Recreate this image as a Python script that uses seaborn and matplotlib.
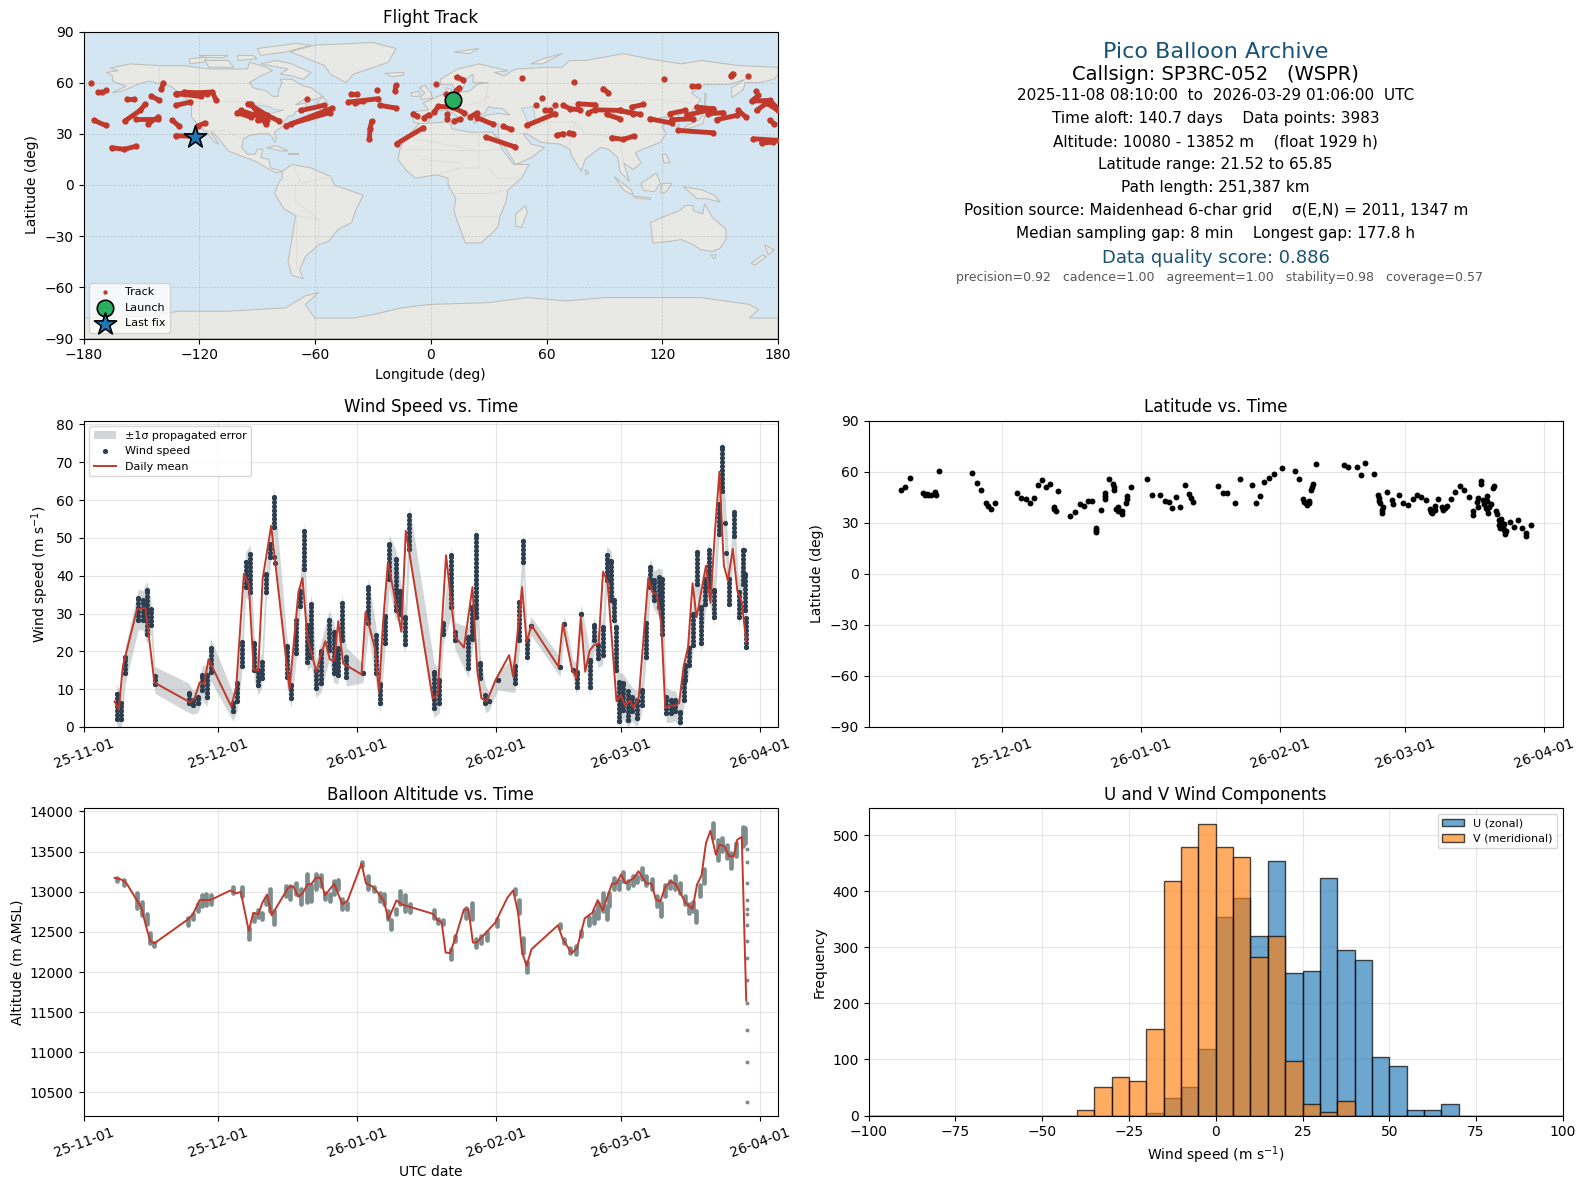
import numpy as np
import pandas as pd
import matplotlib
matplotlib.use("Agg")
import matplotlib.pyplot as plt
import matplotlib.dates as mdates
import seaborn as sns

FIG_W, FIG_H = 1586, 1189
START = pd.Timestamp("2025-11-01")
NAVY = "#2c3e50"
RED = "#c0392b"
GREY = "#7f8c8d"
BLUE_TITLE = "#1a5276"

DATE_TICKS = ["2025-11-01", "2025-12-01", "2026-01-01", "2026-02-01", "2026-03-01", "2026-04-01"]

# wind speed: stacks of samples, day = days since 2025-11-01
WIND_DAY = [7.3, 8.3, 9.2, 12.1, 13.1, 14, 14.9, 15.8, 23.4, 24.3, 25.4, 26.4, 27.4, 28.3, 33.3, 34.2, 35.2, 36.1, 37.1, 38, 38.9, 39.7, 40.7, 41.6, 42.4, 45.3, 46.3, 47.3, 48.2, 49.1, 49.9, 50.8, 51.8, 52.9, 54.8, 55.8, 56.7, 57.7, 58.6, 62.3, 63.5, 65.2, 66.1, 67.2, 68.2, 69.6, 70.7, 71.7, 72.7, 78.2, 79.4, 80.3, 82, 82.9, 85.9, 86.8, 87.7, 88.5, 89.7, 90.5, 92.5, 96.3, 97.3, 98.2, 99, 99.9, 106.4, 107.3, 109.3, 110.1, 111.1, 113, 114, 114.9, 115.9, 116.8, 117.8, 118.5, 118.9, 119.6, 120.5, 121.6, 122.5, 123.5, 124.6, 125.5, 126.5, 127.4, 128.4, 129.2, 130.1, 131.1, 132.1, 133.1, 134, 134.4, 135.1, 136, 136.9, 137.9, 138.8, 139.6, 140.7, 141.8, 142.5, 144.2, 145.2, 146.3, 147.2, 147.8, 148]
WIND_LOW = [2, 2, 14.2, 28.2, 28.2, 24.7, 27, 11.4, 6.3, 5.9, 6.3, 9.8, 7.9, 14.6, 4.1, 6.8, 16, 37, 35.7, 15, 11, 12.9, 35.7, 45, 52.8, 13.3, 7.6, 19.5, 32, 41.8, 17.3, 18.6, 10.3, 11.6, 20.4, 14.2, 13.8, 23, 13.3, 14.2, 27.4, 14.2, 6.3, 22.1, 39.2, 31, 30, 22, 47, 5, 6.3, 24.7, 31.7, 23, 15.5, 23.4, 29, 12.9, 6.3, 6.8, 12.3, 11.6, 23, 43.6, 18.6, 26.7, 15.8, 27.2, 15, 10.7, 30, 10.7, 23, 18.2, 19, 38.8, 33.5, 28.2, 15, 1.5, 4.6, 1.9, 4.1, 2.4, 5.9, 18.6, 37, 33.5, 31.8, 24.7, 3.7, 3.7, 4.1, 1.2, 7.2, 12.5, 16.4, 21.7, 37.9, 22.1, 32.6, 37, 29.1, 51, 62.5, 32.6, 50.6, 29.1, 37.9, 30.9, 21.2]
WIND_HIGH = [8.8, 6.3, 18.6, 34, 33.5, 36.1, 31.3, 13.5, 9.1, 7.2, 8, 13.8, 13.8, 21, 6.3, 11.6, 22.5, 43.6, 45.8, 22.1, 15, 17.3, 40.5, 48.4, 60.7, 21.4, 11.1, 28.2, 36, 51.8, 27, 32.6, 15, 20, 28.4, 25, 20.8, 32.8, 18.6, 14.2, 37, 24.3, 11.4, 29.3, 48.4, 44.5, 36, 29, 56, 14.6, 12.4, 27.4, 45.4, 25.2, 23.9, 31.8, 50.9, 16.8, 8.5, 6.8, 12.3, 16, 33.1, 49.3, 23, 26.7, 15.8, 27.2, 15, 14.6, 30, 17.7, 26.9, 21.7, 26.5, 45.4, 44, 33.5, 26.5, 12, 11.6, 9.4, 8, 7.2, 9.8, 27.4, 42.3, 38.8, 39.6, 39.2, 8, 7.2, 7.2, 3.9, 12.5, 16.4, 20.8, 30, 46.2, 31.8, 39.2, 46.7, 36.1, 59, 74, 39.2, 56.8, 35.7, 46.7, 40.5, 28.7]
WIND_ODD_DAY = [42.5, 42.6, 143.3, 143.5, 147.4]
WIND_ODD_VAL = [45, 43.5, 54, 46, 46.7]
WIND_SIGMA = 2.5

MEAN_DAY = [6.8, 7.75, 8.65, 11.8, 13.7, 15.7, 23.7, 24.7, 25.8, 26.8, 27.8, 32.9, 34, 35.7, 36.8, 37.9, 38.9, 39.9, 41.8, 45.9, 47.9, 48.8, 49.9, 51.9, 52.9, 53.9, 54.9, 55.9, 56.8, 57.9, 62, 62.9, 65, 65.9, 66.8, 67.9, 70.9, 71.9, 77.9, 79, 80.9, 82.9, 84.9, 86.8, 87.9, 88.8, 90, 92, 95, 95.9, 97.9, 98.9, 100, 106, 107, 109, 110, 111, 112, 113, 114, 115, 116, 117, 119, 120, 120.9, 122, 122.9, 124, 126.1, 127, 128, 129, 129.9, 131, 132, 133, 134, 135, 136, 136.9, 139, 140, 141, 142, 143, 143.9, 145, 146, 147, 148]
MEAN_SPEED = [6.75, 4.6, 16.1, 31.1, 31.5, 11.75, 6.5, 7.6, 11.75, 11.4, 17.9, 5.4, 10.7, 40.5, 37.7, 15.1, 14.9, 39.2, 53.2, 10, 35.7, 39.4, 23.7, 14.6, 19, 22.7, 17.9, 17.5, 28, 16.8, 13.9, 30.4, 20.8, 9.4, 27.4, 43.6, 25.2, 51.9, 7.6, 8.5, 45.4, 23.9, 21, 37, 14.6, 7.6, 6.8, 12.5, 19, 13.3, 37, 22.5, 26.9, 16, 27.4, 15.5, 12.9, 29, 14.6, 20.2, 21.7, 22, 41.1, 38.3, 6.8, 8.5, 5.6, 7, 5, 8, 39.4, 35.7, 35.1, 27.4, 5, 5.7, 5.6, 6.3, 16, 21.2, 38, 29, 42.7, 32.8, 51.5, 67.5, 42.7, 38.8, 47.1, 36.1, 33.1, 22.5]

# latitude samples
LAT_DAY = [7.5, 8.4, 9.4, 12.3, 13.2, 14.1, 15, 16, 23.4, 24.4, 25.4, 26.4, 26.8, 27.5, 28.4, 33.3, 34.3, 35.3, 36.3, 37.2, 38, 39, 39.9, 40.8, 42.5, 41.7, 45.3, 46.4, 47.4, 48.3, 49.2, 50.1, 50.9, 52, 53, 53.9, 54.9, 55.8, 56.9, 57.8, 58.7, 62.4, 63.4, 65.3, 66.3, 67.2, 68, 68.9, 69.8, 70.8, 71.7, 72.2, 72.7, 78.3, 79.3, 80.3, 82, 83, 85.8, 86.7, 87.6, 88.5, 89.5, 90.6, 92.4, 95.3, 96.2, 97.2, 97.8, 98.4, 99.1, 100, 106.4, 107.3, 109.1, 110.1, 111, 112.9, 113.9, 114.1, 114.8, 115.9, 116.9, 117.3, 118.5, 119.5, 120.5, 121.6, 122.5, 123.5, 124.5, 125.4, 125.7, 126.6, 127.3, 128.3, 129.2, 130.1, 131.1, 132.1, 133.1, 134.1, 135, 136, 136.8, 137.6, 138.3, 138.7, 139.6, 140.3, 140.8, 141.3, 141.7, 142.3, 143.4, 144.2, 145.1, 146, 146.9, 147.9, 140.5, 140.9, 141.1, 141.5, 142, 141.9, 142.5, 138.2, 138.5, 139, 137.4, 136.9, 99, 99.4, 97.4, 98, 98.6, 115, 114.7, 114, 114.3, 125.6, 125.9, 126.5, 128.2, 128.8, 135.1, 136.1, 136.2, 138.1, 137.9, 139.7, 146.9, 53, 53, 50.9, 50.9, 55.9, 56.8, 55.5, 57.8, 57.7, 42, 41.6, 54.8, 55, 13.6, 12.8, 15.2]
LAT_DEG = [49.4, 51, 56.3, 47.5, 47.1, 46.1, 48, 60.2, 59.2, 53.5, 49, 41.7, 39.8, 38.2, 41.6, 47.5, 44.3, 44.1, 41.8, 44.7, 52.4, 54.9, 50.8, 52.9, 48.8, 38.4, 33.9, 36.3, 41.2, 39.8, 42.7, 43.1, 25.5, 37.3, 45.7, 55.9, 51, 36.9, 35.3, 43.7, 51, 55.9, 46.1, 46.5, 43.1, 42.2, 38.8, 45.1, 39, 52, 47.1, 44.7, 42.2, 51.4, 47.5, 47.6, 41.8, 55.9, 52, 41.8, 45.5, 53.9, 56.3, 58.8, 62.2, 60.6, 55.9, 44.1, 41.6, 43.1, 51, 64.7, 63.7, 62.9, 62.5, 57.8, 64.9, 58.4, 46.1, 43.1, 37.3, 48, 43.5, 41.2, 46.1, 41.6, 40.2, 44.1, 46.1, 45.1, 43.5, 38.2, 36.3, 39.6, 44.1, 37.8, 39.6, 44.1, 48, 51.6, 49.4, 45.1, 36.9, 42.2, 54.3, 41.2, 38.2, 39.2, 50.4, 36.9, 31.4, 32.4, 27.5, 23.5, 30.4, 27.5, 31.8, 27.1, 22, 28.8, 35, 29, 27, 30, 26, 29.5, 25, 43, 36, 41, 43.5, 53, 49, 53, 42.5, 40.5, 41.5, 39, 35.5, 44.5, 41.5, 37, 35.5, 37.7, 39.3, 38.5, 34.8, 39.5, 44.5, 46, 38.7, 51.5, 24, 47.5, 43.9, 27, 24.5, 39, 37, 38, 45.5, 41.5, 37, 39.5, 53, 49.5, 46.5, 46.5, 46.5]

# altitude stacks
ALT_DAY = [7.3, 8.9, 11.9, 13, 14, 14.8, 15.7, 23.3, 24.3, 25.4, 26.3, 27.3, 28.4, 33.2, 35.3, 36.8, 37.9, 38.8, 39.8, 40.6, 41.5, 42.4, 45.1, 46.1, 47.3, 48.5, 49.9, 50.8, 51.8, 52.9, 53.8, 54.9, 55.8, 56.7, 57.6, 58.7, 62.2, 63.4, 64.8, 66.1, 67.1, 68, 68.7, 69.8, 70.7, 71.7, 72.8, 78.2, 79.2, 80.2, 81.9, 83, 85.3, 86.7, 87.7, 88.8, 90, 92.3, 96.2, 97.2, 98.1, 98.9, 106.3, 107.2, 108.5, 110, 111.1, 112.9, 113.9, 114.8, 116, 116.9, 117.4, 118.5, 119.5, 120.5, 121.6, 122.6, 123.6, 124.6, 125.7, 127, 128, 129, 129.8, 130.9, 132.1, 133.1, 134.2, 135.2, 136, 136.8, 137.6, 138.6, 140.5, 141.6, 142.6, 143.6, 144.6, 145.7, 147.2, 147.8]
ALT_LOW = [13132, 13078, 12801, 12706, 12594, 12367, 12325, 12586, 12656, 12760, 12821, 12830, 12842, 12979, 12946, 12408, 12635, 12689, 12664, 12842, 12760, 12594, 12946, 12913, 12966, 12842, 12871, 12884, 13028, 13070, 12904, 12884, 12966, 13028, 12780, 12788, 13318, 13037, 13008, 12884, 12842, 12656, 12532, 12718, 12842, 12760, 12747, 12677, 12606, 12594, 12160, 12387, 12677, 12656, 12317, 12367, 12400, 12573, 12966, 12739, 12243, 11995, 12553, 12367, 12243, 12222, 12449, 12582, 12615, 12677, 12760, 12664, 12821, 13028, 13028, 13132, 13049, 13090, 13119, 13161, 13090, 13028, 12822, 12697, 12946, 13049, 13028, 12987, 12842, 12739, 12760, 12623, 12946, 13111, 13669, 13400, 13504, 13421, 13297, 13442, 13566, 13607]
ALT_HIGH = [13173, 13152, 12979, 12871, 12718, 12491, 12367, 12677, 12718, 12842, 12954, 12966, 12954, 13057, 13061, 12553, 12718, 12772, 12731, 12925, 13036, 12760, 13070, 13070, 13103, 13028, 13227, 13090, 13227, 13214, 12987, 12966, 13132, 13144, 12913, 12855, 13367, 13202, 13061, 12987, 12966, 12760, 12648, 12780, 13008, 12954, 12842, 12772, 12664, 12648, 12284, 12449, 12801, 12863, 12408, 12449, 12499, 12656, 13037, 12896, 12429, 12119, 12594, 12408, 12305, 12325, 12511, 12689, 12760, 12863, 12987, 12821, 12987, 13173, 13132, 13243, 13132, 13194, 13202, 13297, 13194, 13161, 12946, 12863, 13078, 13132, 13194, 13111, 12946, 12842, 12871, 12760, 13090, 13285, 13855, 13649, 13669, 13586, 13483, 13607, 13806, 13793]
ALT_LAST_DAY = [148.1] * 14
ALT_LAST_VAL = [13537, 13376, 13111, 12892, 12780, 12718, 12582, 12383, 12172, 11899, 11614, 11279, 10882, 10386]

ALT_MEAN_DAY = [6.8, 8.3, 9.4, 12.8, 14, 14.8, 15.7, 23.2, 24.3, 25.8, 28.2, 32.7, 34, 35, 36.8, 37.8, 38.9, 39.9, 40.9, 41.9, 45.6, 46.7, 47.9, 48.9, 49.9, 50.8, 51.8, 52.8, 53.8, 55.9, 57.7, 58.9, 62, 63, 64.3, 65.1, 67, 68, 69.8, 71, 77.9, 78.9, 79.9, 80.8, 81.8, 83, 84.9, 85.9, 86.9, 87.7, 89, 91.9, 94.6, 95.9, 97, 97.9, 98.9, 100, 105.9, 107, 109, 110.2, 111.9, 113.6, 114.8, 115.9, 118, 119, 120, 121, 122.9, 123.9, 125.7, 126.8, 127.8, 128.8, 129.8, 131.1, 132.3, 134.4, 136, 137, 138, 139, 140, 141.2, 142, 143.1, 144.2, 145.2, 146, 147, 148]
ALT_MEAN_VAL = [13173, 13152, 13111, 12801, 12532, 12387, 12358, 12656, 12718, 12896, 12896, 13016, 12979, 13000, 12511, 12739, 12718, 12871, 12966, 12706, 13049, 13070, 12937, 12987, 13090, 13099, 13173, 13173, 12954, 13099, 12842, 12892, 13351, 13103, 13070, 13028, 12884, 12656, 12892, 12842, 12726, 12648, 12623, 12243, 12234, 12429, 12780, 12780, 12367, 12367, 12441, 12615, 12925, 13016, 12739, 12243, 12077, 12284, 12582, 12408, 12234, 12305, 12669, 12739, 12896, 12768, 13103, 13103, 13214, 13103, 13173, 13256, 13103, 13103, 12904, 12879, 13049, 13132, 13090, 12863, 12788, 13090, 13202, 13607, 13760, 13462, 13586, 13566, 13442, 13442, 13649, 13682, 11643]

# U/V histogram counts, 5 m/s bins from -100 to 100
BIN_EDGES = list(range(-100, 105, 5))
U_COUNTS = [0] * 16 + [5, 32, 50, 118, 354, 389, 320, 455, 255, 257, 423, 296, 277, 104, 88, 9, 9, 21] + [0] * 6
V_COUNTS = [0] * 12 + [9, 50, 69, 61, 154, 418, 480, 521, 480, 461, 282, 321, 98, 21, 7, 25] + [0] * 12

# flight track, one list of (lon, lat) per visible run of fixes
TRACK_SEGMENTS = [
    [(-175.9, 59.7)], [(-172.4, 54.7), (-170.2, 54.7)], [(-168.1, 55.8)], [(-174.5, 37.9), (-168.5, 34.9)],
    [(-157.2, 50.6), (-153.8, 50.6)], [(-144.8, 52.1), (-140.8, 49.6)], [(-138.6, 59.7), (-139.6, 56.4)],
    [(-132.2, 53.5), (-113.2, 54.5), (-111.4, 50)], [(-131.3, 53.5), (-119.2, 51.9)], [(-127.9, 54.5), (-115.8, 53.5)],
    [(-132.2, 46.7), (-124.7, 48.6)], [(-158.6, 37.5), (-150.7, 43.7), (-148.1, 47.2)], [(-152.9, 38.8), (-141.3, 38.8)],
    [(-146.5, 35.9), (-141.3, 39.8)], [(-133.9, 37.9), (-130.4, 34.4)], [(-165.4, 21.9), (-158.9, 20.9), (-152.6, 22.8)],
    [(-132.2, 28.9), (-121.8, 28.5)], [(-120.9, 34.6), (-117.1, 36.3)],
    [(-100.2, 42.4), (-93.3, 39.8)], [(-94.7, 47.6), (-84.7, 40.8), (-78.6, 37.5)], [(-98.5, 43.7), (-88.1, 39.8)],
    [(-93.3, 47.6), (-85.5, 35.9)], [(-89.8, 37.9), (-84.7, 38.3)], [(-75.1, 34.6), (-51, 45.1)], [(-72.6, 35.9), (-52.2, 42.5)],
    [(-67.4, 43.7), (-55.3, 46.7)], [(-63.9, 50.6)],
    [(-41.5, 53.5), (-38, 53.5)], [(-42.7, 48.6), (-27.2, 50.6)], [(-39.3, 48), (-34.9, 49.2)], [(-28, 55.8)], [(-18, 58.4), (-18.5, 55.4)],
    [(-26.3, 46.7), (-18, 45.1)], [(-30.6, 37.3), (-31.5, 33), (-31.8, 27.1)], [(-17.7, 24.2), (-3.8, 33.6)], [(-9, 41.8), (-6.9, 40.2)],
    [(-3.5, 39.4), (-0.9, 41.2)], [(1.7, 42.8), (4, 46.1), (10.9, 45.7), (17.2, 42.4)], [(2.7, 59)], [(7.9, 53.5)], [(13.1, 55.4), (14.8, 57)],
    [(13.4, 63.2), (16.9, 61.7)], [(8.6, 41.4), (8.6, 38.8)], [(12.2, 37.5), (15.2, 38.5)], [(20.4, 39.8), (23.8, 42.2)], [(24.2, 39.4), (32.5, 35.5)],
    [(37.6, 34.4), (41.4, 32.6)], [(28.5, 28.1), (43.7, 22.3)], [(49.7, 34.9), (64.4, 41.8)], [(47.5, 62.9)],
    [(54.6, 47)], [(57.5, 50.9)], [(59.2, 44.1), (61.8, 44.1)], [(64.4, 47)],
    [(65.2, 29.1), (68.7, 30.1)], [(71.8, 30.6), (73.9, 30.1)], [(68.7, 46.7), (72.2, 44.7), (77.3, 44.1)], [(76.5, 47.6), (85.1, 47)],
    [(81.7, 42.2), (85.1, 44.1), (98, 43.7), (108.4, 41.4)], [(91.2, 41.4), (98, 38.8)], [(98, 43.7), (105, 41.8)], [(104.1, 45.7), (110.2, 47.2)],
    [(74.4, 60.5)], [(89.4, 56.4), (92, 54.1)], [(120.9, 62.3)], [(135.2, 57.8), (138.7, 57.8)], [(155.6, 64.2), (156.5, 65.2)], [(164.6, 64)],
    [(93.8, 27.7), (99.8, 26.7), (105.3, 28.7)], [(113.6, 38.8), (124.9, 36.3)], [(124.9, 38.3), (136.1, 38.8)], [(124, 41.8), (131.8, 43.7)],
    [(132.6, 40.8), (146.5, 44.7)], [(137.8, 45.7), (146.5, 44.7)], [(143.9, 41.8), (151.6, 42.4)], [(148.2, 38.3), (158.6, 40.8)],
    [(159.4, 43.7), (163.4, 39.8)], [(128.3, 32), (146.5, 30.6)], [(167.2, 27.1), (180, 26.2)], [(171.5, 24.6), (177.6, 25.2)], [(168.6, 55.4)],
    [(169.8, 52.5), (166.3, 49.2), (175.8, 49.6), (180, 44.7)], [(168.9, 43.7), (174.1, 48), (180, 43.7)], [(175.8, 37.9), (178.1, 35.9)],
]
LAUNCH = (11.7, 49.6)
LAST_FIX = (-122.1, 28.1)

# rough coastlines for the map background
LAND = [
    [(-168, 66), (-162, 67), (-166, 68.5), (-156, 71), (-141, 70), (-128, 70), (-115, 68), (-108, 68), (-95, 68), (-94, 72), (-85, 69), (-82, 67), (-88, 64), (-94, 60), (-92, 57), (-85, 55), (-82, 52), (-79, 52), (-79, 55), (-77, 60), (-78, 62), (-72, 62), (-66, 58), (-62, 57), (-56, 52), (-60, 50), (-66, 50), (-70, 47), (-65, 48), (-64, 46), (-61, 46), (-66, 44), (-70, 43), (-71, 41), (-74, 40), (-76, 37), (-76, 35), (-81, 31), (-80, 27), (-81, 25), (-82, 28), (-84, 30), (-89, 30), (-94, 29), (-97, 27), (-98, 22), (-95, 18), (-91, 18), (-90, 21), (-87, 21), (-88, 16), (-84, 15), (-83, 10), (-80, 9), (-77, 8), (-80, 7), (-85, 10), (-91, 14), (-96, 16), (-105, 20), (-109, 26), (-113, 31), (-114, 31), (-110, 24), (-112, 25), (-116, 31), (-120, 34), (-124, 40), (-124, 48), (-130, 54), (-135, 58), (-146, 61), (-152, 59), (-160, 55), (-165, 54), (-158, 58), (-165, 61), (-165, 64)],
    [(-80, 73), (-72, 71), (-62, 66), (-66, 62), (-72, 64), (-78, 65), (-74, 68), (-88, 71)],
    [(-117, 73), (-105, 73), (-102, 69), (-115, 69)],
    [(-90, 80), (-70, 83), (-62, 82), (-75, 78), (-88, 76)],
    [(-125, 74), (-116, 75), (-118, 72), (-125, 71)],
    [(-100, 76), (-92, 76), (-90, 74), (-100, 73)], [(-120, 76), (-105, 76), (-108, 74.5), (-118, 75)],
    [(-59, 48), (-56, 52), (-53, 47)],
    [(-73, 78), (-60, 82), (-30, 83.5), (-18, 80), (-22, 72), (-40, 65), (-44, 60), (-52, 65), (-55, 70), (-68, 76)],
    [(-24, 65.5), (-14, 66), (-14, 64.5), (-20, 63.5)],
    [(-5, 50), (1, 51), (0, 54), (-3, 58.5), (-6, 57), (-3, 54), (-5, 52)],
    [(-10, 52), (-6, 52), (-6, 55), (-10, 54)],
    [(-9, 37), (-9, 43), (-1, 44), (-4, 48), (2, 51), (8, 54), (8, 57), (11, 56), (10, 54), (20, 55), (24, 59), (30, 60), (22, 60), (22, 65), (18, 62), (17, 57), (13, 55), (11, 59), (5, 59), (5, 62), (14, 68), (25, 71), (40, 67), (33, 66), (38, 64), (44, 68), (60, 69), (68, 69), (72, 73), (80, 73), (100, 77), (113, 74), (130, 71), (140, 73), (160, 70), (180, 69), (180, 65), (178, 62), (170, 60), (163, 60), (162, 56), (156, 51), (156, 57), (163, 62), (155, 59), (142, 59), (135, 54), (140, 50), (135, 43), (130, 42), (127, 39), (129, 35), (126, 34), (125, 39), (121, 40), (118, 39), (122, 37), (120, 34), (122, 30), (119, 25), (110, 21), (106, 19), (109, 13), (105, 9), (100, 13), (103, 2), (98, 8), (97, 16), (92, 21), (88, 22), (80, 15), (78, 8), (73, 17), (72, 21), (67, 24), (57, 25), (50, 30), (48, 30), (52, 24), (59, 22), (52, 16), (44, 12), (39, 21), (35, 28), (35, 36), (28, 36), (26, 39), (29, 41), (35, 42), (41, 41), (37, 45), (33, 45), (30, 46), (28, 42), (24, 40), (23, 36), (19, 42), (13, 45), (18, 40), (16, 38), (12, 42), (8, 44), (3, 43), (0, 39), (-2, 36), (-6, 36)],
    [(-6, 36), (10, 37), (11, 33), (20, 31), (32, 31), (34, 28), (37, 21), (43, 12), (51, 12), (47, 4), (40, -3), (39, -10), (36, -18), (35, -24), (32, -28), (26, -34), (18, -34), (14, -22), (12, -15), (13, -8), (9, 0), (9, 4), (3, 6), (-8, 4), (-13, 9), (-17, 15), (-16, 21), (-13, 27), (-10, 31)],
    [(49, -12), (50, -16), (47, -25), (44, -24), (44, -17)],
    [(-77, 8), (-72, 12), (-62, 10), (-52, 5), (-50, 0), (-35, -6), (-39, -15), (-41, -22), (-48, -26), (-53, -33), (-58, -35), (-62, -39), (-65, -42), (-68, -50), (-66, -55), (-72, -53), (-74, -45), (-72, -32), (-70, -18), (-76, -14), (-81, -5), (-79, 1), (-77, 4)],
    [(114, -22), (122, -18), (129, -15), (132, -12), (136, -12), (136, -15), (141, -17), (142, -11), (146, -19), (153, -26), (153, -32), (150, -37), (146, -39), (140, -38), (136, -35), (130, -32), (124, -33), (115, -34)],
    [(145, -41), (148, -41), (147, -43.5)],
    [(173, -35), (178, -38), (175, -41)], [(172, -41), (174, -42), (168, -47), (166, -46)],
    [(-180, -78), (-150, -77), (-130, -74), (-105, -74), (-90, -73), (-75, -72), (-65, -65), (-58, -63), (-65, -70), (-62, -75), (-60, -78), (-40, -78), (-30, -76), (-15, -72), (0, -70), (30, -69), (50, -66), (70, -68), (90, -66), (120, -66), (140, -66), (165, -70), (170, -73), (165, -78), (180, -78), (180, -90), (-180, -90)],
    [(130, 32), (136, 34), (141, 36), (142, 40), (141, 41), (139, 38), (133, 35)], [(140, 42), (145, 43), (142, 45)], [(142, 46), (143, 53), (142, 54)],
    [(109, 1), (117, 7), (119, 1), (116, -4), (110, -3)], [(95, 5), (104, -3), (105, -6), (100, -3)], [(105, -6.5), (114, -7.5), (114, -8.5), (106, -7.5)],
    [(119, -5), (120, 1), (125, 1), (122, -4)], [(131, -1), (141, -3), (147, -6), (150, -10), (143, -8), (138, -8)], [(120, 18), (122, 18), (124, 13), (121, 13)],
    [(80, 9), (82, 7), (80.5, 6)], [(-85, 22), (-80, 23), (-74, 20), (-78, 20)], [(-74, 19), (-69, 19), (-69, 18), (-74, 18)],
    [(12, 78), (25, 80), (20, 77)], [(52, 71), (58, 74), (68, 77), (58, 71)],
]
WATER = [
    [(47, 45), (53, 46), (54, 40), (54, 37), (50, 37), (49, 41)],
    [(-92, 47), (-84, 46), (-80, 44), (-76, 44), (-83, 42), (-87, 42), (-88, 45)],
]
BORDERS = [
    [(-123, 49), (-95, 49), (-89, 48), (-83, 46)], [(-117, 32), (-106, 32), (-97, 26)], [(-141, 70), (-141, 60)],
    [(-70, -18), (-58, -20), (-58, -35)], [(-70, 0), (-70, -10), (-58, -20)], [(-72, 12), (-67, 1), (-52, 5)], [(-70, -18), (-70, -50)],
    [(-17, 21), (25, 20), (37, 21)], [(25, 31), (25, 10), (15, 10), (3, 6)], [(12, -5), (30, -5), (40, -3)], [(14, -18), (25, -18), (35, -18)],
    [(-8, 27), (12, 23), (25, 20)], [(-5, 15), (15, 13)], [(30, 10), (35, 4), (47, 4)],
    [(30, 60), (28, 46)], [(35, 36), (47, 30), (60, 37), (75, 37), (80, 30), (97, 28)], [(50, 45), (87, 49), (120, 50), (135, 48)],
    [(10, 54), (14, 46), (24, 48), (30, 52)], [(60, 25), (62, 37)], [(75, 37), (72, 24)], [(98, 28), (100, 13)],
]


def axes_at(fig, left, top, right, bottom):
    return fig.add_axes([left / FIG_W, 1 - bottom / FIG_H, (right - left) / FIG_W, (bottom - top) / FIG_H])


def to_dates(days):
    return START + pd.to_timedelta(np.asarray(days, dtype=float), unit="D")


def style_dates(ax, left_day, right_day):
    ax.set_xticks(pd.to_datetime(DATE_TICKS))
    ax.set_xlim(to_dates([left_day])[0], to_dates([right_day])[0])
    ax.xaxis.set_major_formatter(mdates.DateFormatter("%y-%m-%d"))
    ax.tick_params(axis="x", labelrotation=20)
    ax.grid(True, alpha=0.3)
    ax.set_axisbelow(True)
    ax.set_xlabel("")


fig = plt.figure(figsize=(FIG_W / 100, FIG_H / 100), dpi=100)

# flight track map
ax = axes_at(fig, 83.5, 31.5, 778, 338.5)
ax.set_facecolor("#d4e6f1")
for poly in LAND:
    xs, ys = zip(*poly)
    ax.fill(xs, ys, facecolor="#e8e8e4", edgecolor="#bcbcb8", linewidth=0.7, zorder=1)
for poly in WATER:
    xs, ys = zip(*poly)
    ax.fill(xs, ys, facecolor="#d4e6f1", edgecolor="#bcbcb8", linewidth=0.5, zorder=1.1)
for line in BORDERS:
    xs, ys = zip(*line)
    ax.plot(xs, ys, color="#d9d9d5", linewidth=0.5, zorder=1.2)
ax.grid(True, color="gray", linestyle="--", linewidth=0.5, alpha=0.3, zorder=1.5)
for seg in TRACK_SEGMENTS:
    xs, ys = zip(*seg)
    ax.plot(xs, ys, "-o", color=RED, markersize=3.5, linewidth=3.5, solid_capstyle="round", zorder=3)
ax.scatter([], [], color=RED, s=10, linewidths=0, label="Track")
sns.scatterplot(x=[LAUNCH[0]], y=[LAUNCH[1]], ax=ax, color="#27ae60", s=140, edgecolor="black", linewidth=1.2, zorder=5, label="Launch")
sns.scatterplot(x=[LAST_FIX[0]], y=[LAST_FIX[1]], ax=ax, color="#1f77b4", marker="*", s=280, edgecolor="black", linewidth=1.2, zorder=5, label="Last fix")
ax.set_xlim(-180, 180)
ax.set_ylim(-90, 90)
ax.set_xticks(range(-180, 181, 60))
ax.set_yticks(range(-90, 91, 30))
ax.set_xlabel("Longitude (deg)")
ax.set_ylabel("Latitude (deg)")
ax.set_title("Flight Track", fontsize=12)
ax.legend(loc="lower left", fontsize=8)

# summary text
cx = 1215.5
for y, x_off, txt, size, col in [
    (52, 0, "Pico Balloon Archive", 16, BLUE_TITLE),
    (74.5, 0, "Callsign: SP3RC-052   (WSPR)", 14, "black"),
    (96, 0, "2025-11-08 08:10:00  to  2026-03-29 01:06:00  UTC", 11, "black"),
    (119, 0, "Time aloft: 140.7 days    Data points: 3983", 11, "black"),
    (142, 0, "Altitude: 10080 - 13852 m    (float 1929 h)", 11, "black"),
    (164.5, 0, "Latitude range: 21.52 to 65.85", 11, "black"),
    (187.5, 0, "Path length: 251,387 km", 11, "black"),
    (210.5, 1, "Position source: Maidenhead 6-char grid    σ(E,N) = 2011, 1347 m", 11, "black"),
    (233.5, 0, "Median sampling gap: 8 min    Longest gap: 177.8 h", 11, "black"),
    (258, 0, "Data quality score: 0.886", 13, BLUE_TITLE),
    (278, 4, "precision=0.92   cadence=1.00   agreement=1.00   stability=0.98   coverage=0.57", 9, "#555555"),
]:
    fig.text((cx + x_off) / FIG_W, 1 - y / FIG_H, txt, ha="center", va="center", fontsize=size, color=col)

# wind speed
ax = axes_at(fig, 83.5, 420.7, 778, 727)
day = np.array(WIND_DAY)
low = np.array(WIND_LOW)
high = np.array(WIND_HIGH)
ax.fill_between(to_dates(day), np.clip(low - WIND_SIGMA, 0, None), high + WIND_SIGMA, color=GREY, alpha=0.35, linewidth=0, label="±1σ propagated error")
ax.vlines(to_dates(day), low, high, color=NAVY, linewidth=3.7, linestyles=[(0, (0.01, 0.8))], capstyle="round", zorder=3)
sns.scatterplot(x=to_dates(np.r_[day, day, WIND_ODD_DAY]), y=np.r_[low, high, WIND_ODD_VAL], ax=ax, color=NAVY, s=14, linewidth=0, zorder=3, label="Wind speed")
sns.lineplot(x=to_dates(MEAN_DAY), y=MEAN_SPEED, ax=ax, color=RED, linewidth=1.4, errorbar=None, zorder=4, label="Daily mean")
ax.set_ylim(0, 81)
ax.set_yticks(range(0, 81, 10))
style_dates(ax, -0.15, 155.1)
ax.set_ylabel("Wind speed (m s$^{-1}$)")
ax.set_title("Wind Speed vs. Time", fontsize=12)
ax.legend(loc="upper left", fontsize=8)

# latitude
ax = axes_at(fig, 868.7, 420.7, 1562.8, 727)
sns.scatterplot(x=to_dates(LAT_DAY), y=LAT_DEG, ax=ax, color="black", s=18, linewidth=0)
ax.set_ylim(-90, 90)
ax.set_yticks(range(-90, 91, 30))
style_dates(ax, 0.3, 155.1)
ax.set_ylabel("Latitude (deg)")
ax.set_title("Latitude vs. Time", fontsize=12)

# altitude
ax = axes_at(fig, 83.5, 808.4, 778, 1115.5)
ax.vlines(to_dates(ALT_DAY), ALT_LOW, ALT_HIGH, color=GREY, linewidth=3.4, capstyle="round", zorder=2)
sns.scatterplot(x=to_dates(ALT_LAST_DAY), y=ALT_LAST_VAL, ax=ax, color=GREY, s=8, linewidth=0, zorder=2)
sns.lineplot(x=to_dates(ALT_MEAN_DAY), y=ALT_MEAN_VAL, ax=ax, color=RED, linewidth=1.4, errorbar=None, zorder=4)
ax.set_ylim(10213, 14038)
ax.set_yticks(range(10500, 14001, 500))
style_dates(ax, -0.15, 155.1)
ax.set_xlabel("UTC date")
ax.set_ylabel("Altitude (m AMSL)")
ax.set_title("Balloon Altitude vs. Time", fontsize=12)

# U and V histogram
ax = axes_at(fig, 868.7, 808.4, 1562.8, 1115.5)
soft_black = (0, 0, 0, 0.7)
sns.histplot(x=BIN_EDGES[:-1], weights=U_COUNTS, bins=BIN_EDGES, ax=ax, color="tab:blue", alpha=0.65, edgecolor=soft_black, linewidth=1, label="U (zonal)")
sns.histplot(x=BIN_EDGES[:-1], weights=V_COUNTS, bins=BIN_EDGES, ax=ax, color="tab:orange", alpha=0.65, edgecolor=soft_black, linewidth=1, label="V (meridional)")
ax.set_xlim(-100, 100)
ax.set_ylim(0, 548)
ax.grid(True, alpha=0.3)
ax.set_axisbelow(True)
ax.set_xlabel("Wind speed (m s$^{-1}$)")
ax.set_ylabel("Frequency")
ax.set_title("U and V Wind Components", fontsize=12)
ax.legend(loc="upper right", fontsize=8)

fig.savefig("out.png", dpi=100)
